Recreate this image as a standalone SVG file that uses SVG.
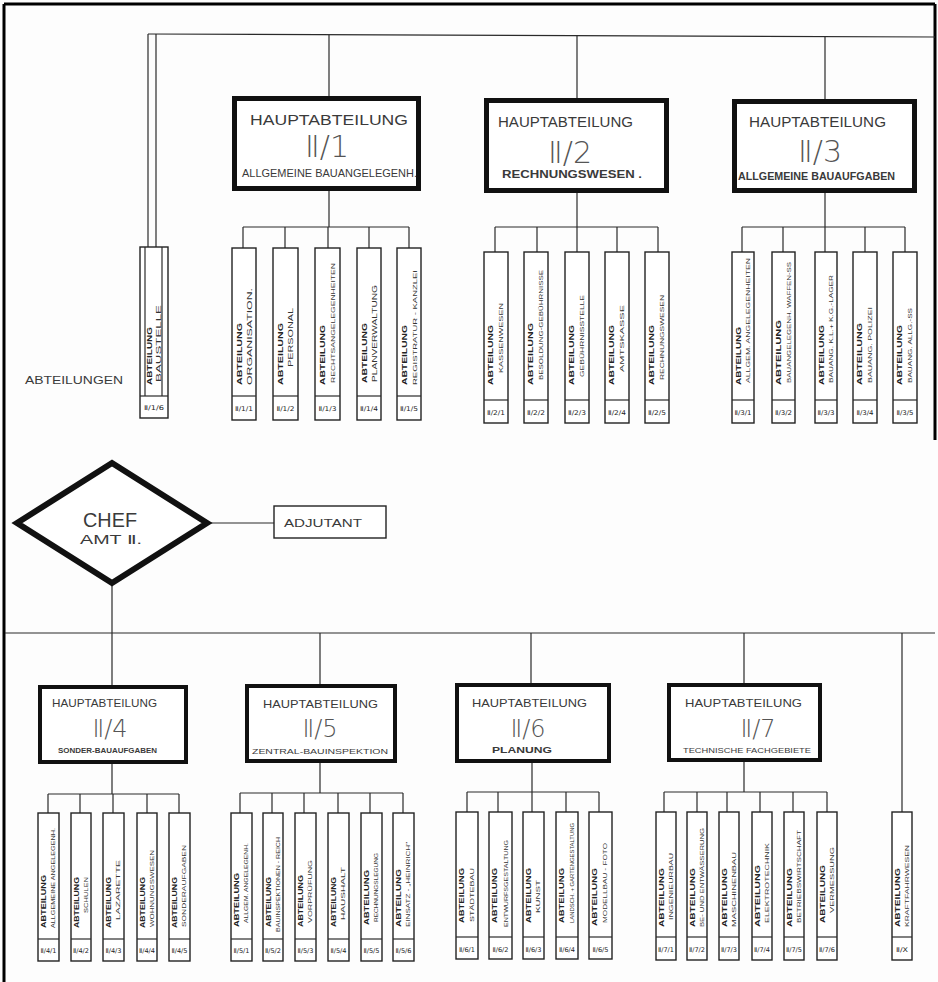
<svg xmlns="http://www.w3.org/2000/svg" width="938" height="982" viewBox="0 0 938 982">
<defs>
<style>
.ln{stroke:#2a2a2a;stroke-width:1.2;fill:none}
.frame{stroke:#000;stroke-width:3;fill:none}
.bx{fill:#fff;stroke:#222;stroke-width:1.4}
.hb{fill:#fff;stroke:#111;stroke-width:5}
.hb2{fill:#fff;stroke:#111;stroke-width:4}
.ab{font-family:"Liberation Sans",Arial,sans-serif;font-weight:bold;fill:#222}
.sb{font-family:"Liberation Sans",Arial,sans-serif;fill:#333}
.cd{font-family:"DejaVu Sans Condensed","DejaVu Sans",sans-serif;font-size:6.5px;fill:#222;text-anchor:middle}
.ht{font-family:"Liberation Sans",Arial,sans-serif;fill:#3a3a3a}
.num{font-family:"DejaVu Sans",sans-serif;font-weight:200;fill:#555;text-anchor:middle}
.t8{font-size:8px}
.t7{font-size:7px}
.t6{font-size:6px}
</style>
</defs>
<rect width="938" height="982" fill="#fdfdfd"/>
<g id="frame">
<line class="frame" x1="4" y1="4" x2="935" y2="4"/>
<line class="frame" x1="4" y1="4" x2="4" y2="982"/>
<line class="frame" x1="935" y1="4" x2="935" y2="440"/>
</g>
<g id="connectors">
<line class="ln" x1="148" y1="34" x2="935" y2="37"/>
<line class="ln" x1="148" y1="34" x2="148" y2="247"/>
<line class="ln" x1="156" y1="34" x2="156" y2="247"/>
<line class="ln" x1="329" y1="35" x2="329" y2="96"/>
<line class="ln" x1="577" y1="36" x2="577" y2="98"/>
<line class="ln" x1="825" y1="36" x2="825" y2="99"/>
<line class="ln" x1="329" y1="191" x2="329" y2="227"/>
<line class="ln" x1="577" y1="193" x2="577" y2="227"/>
<line class="ln" x1="825" y1="193" x2="825" y2="227"/>
<line class="ln" x1="243" y1="227" x2="409" y2="227"/>
<line class="ln" x1="495" y1="227" x2="658" y2="227"/>
<line class="ln" x1="742" y1="227" x2="905" y2="227"/>
<path class="ln" d="M243 227V248M285 227V248M328 227V248M369 227V248M409 227V248"/>
<path class="ln" d="M495 227V252M537 227V252M577 227V252M617 227V252M658 227V252"/>
<path class="ln" d="M742 227V252M783 227V252M825 227V252M865 227V252M905 227V252"/>
<line class="ln" x1="207" y1="523" x2="274" y2="523"/>
<line class="ln" x1="112" y1="583" x2="112" y2="633"/>
<line class="ln" x1="5" y1="633" x2="935" y2="633"/>
<path class="ln" d="M112 633V685M320 633V684M531 633V683M744 633V683M902 633V812"/>
<path class="ln" d="M112 764V794M320 763V793M532 763V792M744 762V792"/>
<line class="ln" x1="48" y1="794" x2="179" y2="794"/>
<line class="ln" x1="240" y1="793" x2="403" y2="793"/>
<line class="ln" x1="467" y1="792" x2="599" y2="792"/>
<line class="ln" x1="664" y1="792" x2="827" y2="792"/>
<path class="ln" d="M48 794V813M80 794V813M113 794V813M147 794V813M179 794V813"/>
<path class="ln" d="M240 793V813M272 793V813M304 793V813M338 793V813M370 793V813M403 793V813"/>
<path class="ln" d="M467 792V812M498 792V812M532 792V812M566 792V812M599 792V812"/>
<path class="ln" d="M664 792V812M697 792V812M727 792V812M760 792V812M793 792V812M827 792V812"/>
</g>

<g id="label-abteilungen">
<text class="ht" x="25" y="384" font-size="10" textLength="98" lengthAdjust="spacingAndGlyphs" fill="#555">ABTEILUNGEN</text>
</g>

<!-- Top Hauptabteilungen -->
<g id="ha-2-1">
<rect class="hb" x="234.5" y="98.5" width="184" height="90"/>
<text class="ht" x="250" y="125" font-size="14" textLength="158" lengthAdjust="spacingAndGlyphs">HAUPTABTEILUNG</text>
<text class="num" x="327" y="157" font-size="30">Ⅱ/1</text>
<text class="ht" x="242" y="177" font-size="11" textLength="175" lengthAdjust="spacingAndGlyphs">ALLGEMEINE BAUANGELEGENH.</text>
</g>
<g id="ha-2-2">
<rect class="hb" x="486.5" y="100.5" width="180" height="90"/>
<text class="ht" x="498" y="127" font-size="14" textLength="135" lengthAdjust="spacingAndGlyphs">HAUPTABTEILUNG</text>
<text class="num" x="570" y="163" font-size="30">Ⅱ/2</text>
<text class="ht" x="502" y="178" font-size="10.5" font-weight="bold" textLength="140" lengthAdjust="spacingAndGlyphs">RECHNUNGSWESEN .</text>
</g>
<g id="ha-2-3">
<rect class="hb" x="734.5" y="101.5" width="180" height="89"/>
<text class="ht" x="749" y="127" font-size="14" textLength="137" lengthAdjust="spacingAndGlyphs">HAUPTABTEILUNG</text>
<text class="num" x="820" y="162" font-size="30">Ⅱ/3</text>
<text class="ht" x="738" y="180" font-size="10.5" font-weight="bold" textLength="157" lengthAdjust="spacingAndGlyphs">ALLGEMEINE BAUAUFGABEN</text>
</g>

<!-- Abteilung Baustelle -->
<g id="a-2-1-6">
<rect class="bx" x="140" y="247" width="28" height="171"/>
<line class="ln" x1="145" y1="247" x2="145" y2="396"/>
<line class="ln" x1="162" y1="247" x2="162" y2="396"/>
<line class="ln" x1="140" y1="396" x2="168" y2="396"/>
<text class="ab" font-size="7" transform="translate(152,385) rotate(-90)" textLength="58" lengthAdjust="spacingAndGlyphs">ABTEILUNG</text>
<text class="sb" font-size="6.5" transform="translate(160.5,382) rotate(-90)" textLength="77" lengthAdjust="spacingAndGlyphs">BAUSTELLE</text>
<text class="cd" x="154" y="410" textLength="20" lengthAdjust="spacingAndGlyphs">Ⅱ/1/6</text>
</g>

<!-- II/1 departments -->
<g id="a-2-1-1">
<rect class="bx" x="232" y="248" width="24" height="172"/>
<line class="ln" x1="232" y1="396" x2="256" y2="396"/>
<text class="ab t8" transform="translate(242,385) rotate(-90)" textLength="62" lengthAdjust="spacingAndGlyphs">ABTEILUNG</text>
<text class="sb t7" transform="translate(252,385) rotate(-90)" textLength="97" lengthAdjust="spacingAndGlyphs">ORGANISATION.</text>
<text class="cd" x="244" y="411" textLength="18" lengthAdjust="spacingAndGlyphs">Ⅱ/1/1</text>
</g>
<g id="a-2-1-2">
<rect class="bx" x="273" y="248" width="25" height="172"/>
<line class="ln" x1="273" y1="396" x2="298" y2="396"/>
<text class="ab t8" transform="translate(283,385) rotate(-90)" textLength="62" lengthAdjust="spacingAndGlyphs">ABTEILUNG</text>
<text class="sb t7" transform="translate(293,367) rotate(-90)" textLength="59" lengthAdjust="spacingAndGlyphs">PERSONAL</text>
<text class="cd" x="285.5" y="411" textLength="18" lengthAdjust="spacingAndGlyphs">Ⅱ/1/2</text>
</g>
<g id="a-2-1-3">
<rect class="bx" x="315" y="248" width="25" height="172"/>
<line class="ln" x1="315" y1="396" x2="340" y2="396"/>
<text class="ab t8" transform="translate(325,385) rotate(-90)" textLength="60" lengthAdjust="spacingAndGlyphs">ABTEILUNG</text>
<text class="sb t6" transform="translate(335,383) rotate(-90)" textLength="120" lengthAdjust="spacingAndGlyphs">RECHTSANGELEGENHEITEN</text>
<text class="cd" x="327.5" y="411" textLength="18" lengthAdjust="spacingAndGlyphs">Ⅱ/1/3</text>
</g>
<g id="a-2-1-4">
<rect class="bx" x="357" y="248" width="24" height="172"/>
<line class="ln" x1="357" y1="396" x2="381" y2="396"/>
<text class="ab t8" transform="translate(367,383) rotate(-90)" textLength="60" lengthAdjust="spacingAndGlyphs">ABTEILUNG</text>
<text class="sb t7" transform="translate(377,382) rotate(-90)" textLength="97" lengthAdjust="spacingAndGlyphs">PLANVERWALTUNG</text>
<text class="cd" x="369" y="411" textLength="18" lengthAdjust="spacingAndGlyphs">Ⅱ/1/4</text>
</g>
<g id="a-2-1-5">
<rect class="bx" x="397" y="248" width="24" height="172"/>
<line class="ln" x1="397" y1="396" x2="421" y2="396"/>
<text class="ab t8" transform="translate(407,385) rotate(-90)" textLength="60" lengthAdjust="spacingAndGlyphs">ABTEILUNG</text>
<text class="sb t6" transform="translate(417,385) rotate(-90)" textLength="115" lengthAdjust="spacingAndGlyphs">REGISTRATUR - KANZLEI</text>
<text class="cd" x="409" y="411" textLength="18" lengthAdjust="spacingAndGlyphs">Ⅱ/1/5</text>
</g>

<!-- II/2 departments -->
<g id="a-2-2-1">
<rect class="bx" x="484" y="252" width="24" height="171"/>
<line class="ln" x1="484" y1="400" x2="508" y2="400"/>
<text class="ab t8" transform="translate(493,385) rotate(-90)" textLength="60" lengthAdjust="spacingAndGlyphs">ABTEILUNG</text>
<text class="sb t6" transform="translate(503,373) rotate(-90)" textLength="70" lengthAdjust="spacingAndGlyphs">KASSENWESEN</text>
<text class="cd" x="496" y="415" textLength="18" lengthAdjust="spacingAndGlyphs">Ⅱ/2/1</text>
</g>
<g id="a-2-2-2">
<rect class="bx" x="524" y="252" width="24" height="171"/>
<line class="ln" x1="524" y1="400" x2="548" y2="400"/>
<text class="ab t8" transform="translate(533,385) rotate(-90)" textLength="62" lengthAdjust="spacingAndGlyphs">ABTEILUNG</text>
<text class="sb t6" transform="translate(543,380) rotate(-90)" textLength="110" lengthAdjust="spacingAndGlyphs">BESOLDUNG-GEBÜHRNISSE</text>
<text class="cd" x="536" y="415" textLength="18" lengthAdjust="spacingAndGlyphs">Ⅱ/2/2</text>
</g>
<g id="a-2-2-3">
<rect class="bx" x="565" y="252" width="24" height="171"/>
<line class="ln" x1="565" y1="400" x2="589" y2="400"/>
<text class="ab t8" transform="translate(574,385) rotate(-90)" textLength="60" lengthAdjust="spacingAndGlyphs">ABTEILUNG</text>
<text class="sb t6" transform="translate(584,377) rotate(-90)" textLength="82" lengthAdjust="spacingAndGlyphs">GEBÜHRNISSTELLE</text>
<text class="cd" x="577" y="415" textLength="18" lengthAdjust="spacingAndGlyphs">Ⅱ/2/3</text>
</g>
<g id="a-2-2-4">
<rect class="bx" x="605" y="252" width="24" height="171"/>
<line class="ln" x1="605" y1="400" x2="629" y2="400"/>
<text class="ab t8" transform="translate(614,385) rotate(-90)" textLength="60" lengthAdjust="spacingAndGlyphs">ABTEILUNG</text>
<text class="sb t6" transform="translate(624,372) rotate(-90)" textLength="67" lengthAdjust="spacingAndGlyphs">AMTSKASSE</text>
<text class="cd" x="617" y="415" textLength="18" lengthAdjust="spacingAndGlyphs">Ⅱ/2/4</text>
</g>
<g id="a-2-2-5">
<rect class="bx" x="645" y="252" width="24" height="171"/>
<line class="ln" x1="645" y1="400" x2="669" y2="400"/>
<text class="ab t8" transform="translate(654,385) rotate(-90)" textLength="60" lengthAdjust="spacingAndGlyphs">ABTEILUNG</text>
<text class="sb t6" transform="translate(664,380) rotate(-90)" textLength="85" lengthAdjust="spacingAndGlyphs">RECHNUNGSWESEN</text>
<text class="cd" x="657" y="415" textLength="18" lengthAdjust="spacingAndGlyphs">Ⅱ/2/5</text>
</g>

<!-- II/3 departments -->
<g id="a-2-3-1">
<rect class="bx" x="732" y="252" width="22" height="171"/>
<line class="ln" x1="732" y1="400" x2="754" y2="400"/>
<text class="ab t8" transform="translate(741,385) rotate(-90)" textLength="58" lengthAdjust="spacingAndGlyphs">ABTEILUNG</text>
<text class="sb t6" transform="translate(750,383) rotate(-90)" textLength="125" lengthAdjust="spacingAndGlyphs">ALLGEM. ANGELEGENHEITEN</text>
<text class="cd" x="743" y="415" textLength="17" lengthAdjust="spacingAndGlyphs">Ⅱ/3/1</text>
</g>
<g id="a-2-3-2">
<rect class="bx" x="772" y="252" width="23" height="171"/>
<line class="ln" x1="772" y1="400" x2="795" y2="400"/>
<text class="ab t8" transform="translate(781,385) rotate(-90)" textLength="65" lengthAdjust="spacingAndGlyphs">ABTEILUNG</text>
<text class="sb t6" transform="translate(790.5,383) rotate(-90)" textLength="121" lengthAdjust="spacingAndGlyphs">BAUANGELEGENH. WAFFEN-SS</text>
<text class="cd" x="783.5" y="415" textLength="17" lengthAdjust="spacingAndGlyphs">Ⅱ/3/2</text>
</g>
<g id="a-2-3-3">
<rect class="bx" x="815" y="252" width="22" height="171"/>
<line class="ln" x1="815" y1="400" x2="837" y2="400"/>
<text class="ab t8" transform="translate(824,385) rotate(-90)" textLength="60" lengthAdjust="spacingAndGlyphs">ABTEILUNG</text>
<text class="sb t6" transform="translate(833,383) rotate(-90)" textLength="108" lengthAdjust="spacingAndGlyphs">BAUANG. K.L.+ K.G.-LAGER</text>
<text class="cd" x="826" y="415" textLength="17" lengthAdjust="spacingAndGlyphs">Ⅱ/3/3</text>
</g>
<g id="a-2-3-4">
<rect class="bx" x="853" y="252" width="24" height="171"/>
<line class="ln" x1="853" y1="400" x2="877" y2="400"/>
<text class="ab t8" transform="translate(862,385) rotate(-90)" textLength="62" lengthAdjust="spacingAndGlyphs">ABTEILUNG</text>
<text class="sb t6" transform="translate(872,383) rotate(-90)" textLength="76" lengthAdjust="spacingAndGlyphs">BAUANG. POLIZEI</text>
<text class="cd" x="865" y="415" textLength="17" lengthAdjust="spacingAndGlyphs">Ⅱ/3/4</text>
</g>
<g id="a-2-3-5">
<rect class="bx" x="893" y="252" width="24" height="171"/>
<line class="ln" x1="893" y1="400" x2="917" y2="400"/>
<text class="ab t8" transform="translate(902,385) rotate(-90)" textLength="60" lengthAdjust="spacingAndGlyphs">ABTEILUNG</text>
<text class="sb t6" transform="translate(912,383) rotate(-90)" textLength="75" lengthAdjust="spacingAndGlyphs">BAUANG. ALLG.-SS</text>
<text class="cd" x="905" y="415" textLength="17" lengthAdjust="spacingAndGlyphs">Ⅱ/3/5</text>
</g>

<!-- Chef and Adjutant -->
<g id="chef">
<polygon points="17,523 112,463 207,523 112,583" fill="#fff" stroke="#111" stroke-width="6" stroke-linejoin="miter"/>
<text class="ht" x="83" y="527" font-size="20" textLength="54" lengthAdjust="spacingAndGlyphs">CHEF</text>
<text class="ht" x="80" y="544" font-size="12" textLength="62" lengthAdjust="spacingAndGlyphs">AMT Ⅱ.</text>
</g>
<g id="adjutant">
<rect class="bx" x="274" y="506" width="112" height="32" stroke-width="1.2"/>
<text class="ht" x="284" y="527" font-size="11" textLength="78" lengthAdjust="spacingAndGlyphs">ADJUTANT</text>
</g>

<!-- Bottom Hauptabteilungen -->
<g id="ha-2-4">
<rect class="hb2" x="40" y="687" width="146" height="75"/>
<text class="ht" x="52" y="707" font-size="11" textLength="105" lengthAdjust="spacingAndGlyphs">HAUPTABTEILUNG</text>
<text class="num" x="110" y="737" font-size="24">Ⅱ/4</text>
<text class="ht" x="58" y="753" font-size="8" font-weight="bold" textLength="99" lengthAdjust="spacingAndGlyphs">SONDER-BAUAUFGABEN</text>
</g>
<g id="ha-2-5">
<rect class="hb2" x="247" y="686" width="148" height="75"/>
<text class="ht" x="263" y="708" font-size="11" textLength="115" lengthAdjust="spacingAndGlyphs">HAUPTABTEILUNG</text>
<text class="num" x="320" y="737" font-size="24">Ⅱ/5</text>
<text class="ht" x="252" y="754" font-size="8" textLength="136" lengthAdjust="spacingAndGlyphs">ZENTRAL-BAUINSPEKTION</text>
</g>
<g id="ha-2-6">
<rect class="hb2" x="457" y="685" width="152" height="76"/>
<text class="ht" x="472" y="707" font-size="11" textLength="115" lengthAdjust="spacingAndGlyphs">HAUPTABTEILUNG</text>
<text class="num" x="528" y="737" font-size="24">Ⅱ/6</text>
<text class="ht" x="492" y="753" font-size="8.5" font-weight="bold" textLength="60" lengthAdjust="spacingAndGlyphs">PLANUNG</text>
</g>
<g id="ha-2-7">
<rect class="hb2" x="669" y="685" width="151" height="75"/>
<text class="ht" x="685" y="707" font-size="11" textLength="117" lengthAdjust="spacingAndGlyphs">HAUPTABTEILUNG</text>
<text class="num" x="758" y="737" font-size="24">Ⅱ/7</text>
<text class="ht" x="683" y="753" font-size="8" textLength="128" lengthAdjust="spacingAndGlyphs">TECHNISCHE FACHGEBIETE</text>
</g>

<!-- II/4 departments -->
<g id="a-2-4-1">
<rect class="bx" x="38" y="813" width="21" height="148"/>
<line class="ln" x1="38" y1="939" x2="59" y2="939"/>
<text class="ab t7" transform="translate(46,928) rotate(-90)" textLength="53" lengthAdjust="spacingAndGlyphs">ABTEILUNG</text>
<text class="sb t6" transform="translate(55,928) rotate(-90)" textLength="100" lengthAdjust="spacingAndGlyphs">ALLGEMEINE ANGELEGENH.</text>
<text class="cd" x="48.5" y="953" textLength="16" lengthAdjust="spacingAndGlyphs">Ⅱ/4/1</text>
</g>
<g id="a-2-4-2">
<rect class="bx" x="71" y="813" width="20" height="148"/>
<line class="ln" x1="71" y1="939" x2="91" y2="939"/>
<text class="ab t7" transform="translate(79,928) rotate(-90)" textLength="51" lengthAdjust="spacingAndGlyphs">ABTEILUNG</text>
<text class="sb t6" transform="translate(88,913) rotate(-90)" textLength="36" lengthAdjust="spacingAndGlyphs">SCHULEN</text>
<text class="cd" x="81" y="953" textLength="16" lengthAdjust="spacingAndGlyphs">Ⅱ/4/2</text>
</g>
<g id="a-2-4-3">
<rect class="bx" x="103" y="813" width="21" height="148"/>
<line class="ln" x1="103" y1="939" x2="124" y2="939"/>
<text class="ab t7" transform="translate(111,928) rotate(-90)" textLength="51" lengthAdjust="spacingAndGlyphs">ABTEILUNG</text>
<text class="sb t6" transform="translate(120,920) rotate(-90)" textLength="60" lengthAdjust="spacingAndGlyphs">LAZARETTE</text>
<text class="cd" x="113.5" y="953" textLength="16" lengthAdjust="spacingAndGlyphs">Ⅱ/4/3</text>
</g>
<g id="a-2-4-4">
<rect class="bx" x="137" y="813" width="20" height="148"/>
<line class="ln" x1="137" y1="939" x2="157" y2="939"/>
<text class="ab t7" transform="translate(145,928) rotate(-90)" textLength="51" lengthAdjust="spacingAndGlyphs">ABTEILUNG</text>
<text class="sb t6" transform="translate(154,927) rotate(-90)" textLength="77" lengthAdjust="spacingAndGlyphs">WOHNUNGSWESEN</text>
<text class="cd" x="147" y="953" textLength="16" lengthAdjust="spacingAndGlyphs">Ⅱ/4/4</text>
</g>
<g id="a-2-4-5">
<rect class="bx" x="169" y="813" width="21" height="148"/>
<line class="ln" x1="169" y1="939" x2="190" y2="939"/>
<text class="ab t7" transform="translate(177,928) rotate(-90)" textLength="51" lengthAdjust="spacingAndGlyphs">ABTEILUNG</text>
<text class="sb t6" transform="translate(186,927) rotate(-90)" textLength="82" lengthAdjust="spacingAndGlyphs">SONDERAUFGABEN</text>
<text class="cd" x="179.5" y="953" textLength="16" lengthAdjust="spacingAndGlyphs">Ⅱ/4/5</text>
</g>

<!-- II/5 departments -->
<g id="a-2-5-1">
<rect class="bx" x="231" y="813" width="21" height="148"/>
<line class="ln" x1="231" y1="939" x2="252" y2="939"/>
<text class="ab t7" transform="translate(239,927) rotate(-90)" textLength="54" lengthAdjust="spacingAndGlyphs">ABTEILUNG</text>
<text class="sb t6" transform="translate(248,923) rotate(-90)" textLength="80" lengthAdjust="spacingAndGlyphs">ALLGEM. ANGELEGENH.</text>
<text class="cd" x="241.5" y="953" textLength="16" lengthAdjust="spacingAndGlyphs">Ⅱ/5/1</text>
</g>
<g id="a-2-5-2">
<rect class="bx" x="263" y="813" width="20" height="148"/>
<line class="ln" x1="263" y1="939" x2="283" y2="939"/>
<text class="ab t7" transform="translate(271,927) rotate(-90)" textLength="50" lengthAdjust="spacingAndGlyphs">ABTEILUNG</text>
<text class="sb t6" transform="translate(280,932) rotate(-90)" textLength="95" lengthAdjust="spacingAndGlyphs">BAUINSPEKTIONEN - REICH</text>
<text class="cd" x="273" y="953" textLength="16" lengthAdjust="spacingAndGlyphs">Ⅱ/5/2</text>
</g>
<g id="a-2-5-3">
<rect class="bx" x="295" y="813" width="21" height="148"/>
<line class="ln" x1="295" y1="939" x2="316" y2="939"/>
<text class="ab t7" transform="translate(303,927) rotate(-90)" textLength="52" lengthAdjust="spacingAndGlyphs">ABTEILUNG</text>
<text class="sb t6" transform="translate(312,923) rotate(-90)" textLength="63" lengthAdjust="spacingAndGlyphs">VORPRÜFUNG</text>
<text class="cd" x="305.5" y="953" textLength="16" lengthAdjust="spacingAndGlyphs">Ⅱ/5/3</text>
</g>
<g id="a-2-5-4">
<rect class="bx" x="328" y="813" width="21" height="148"/>
<line class="ln" x1="328" y1="939" x2="349" y2="939"/>
<text class="ab t7" transform="translate(336,927) rotate(-90)" textLength="50" lengthAdjust="spacingAndGlyphs">ABTEILUNG</text>
<text class="sb t6" transform="translate(345,920) rotate(-90)" textLength="53" lengthAdjust="spacingAndGlyphs">HAUSHALT</text>
<text class="cd" x="338.5" y="953" textLength="16" lengthAdjust="spacingAndGlyphs">Ⅱ/5/4</text>
</g>
<g id="a-2-5-5">
<rect class="bx" x="361" y="813" width="21" height="148"/>
<line class="ln" x1="361" y1="939" x2="382" y2="939"/>
<text class="ab t7" transform="translate(369,925) rotate(-90)" textLength="55" lengthAdjust="spacingAndGlyphs">ABTEILUNG</text>
<text class="sb t6" transform="translate(378,922) rotate(-90)" textLength="69" lengthAdjust="spacingAndGlyphs">RECHNUNGSLEGUNG</text>
<text class="cd" x="371.5" y="953" textLength="16" lengthAdjust="spacingAndGlyphs">Ⅱ/5/5</text>
</g>
<g id="a-2-5-6">
<rect class="bx" x="393" y="813" width="21" height="148"/>
<line class="ln" x1="393" y1="939" x2="414" y2="939"/>
<text class="ab t7" transform="translate(401,927) rotate(-90)" textLength="58" lengthAdjust="spacingAndGlyphs">ABTEILUNG</text>
<text class="sb t6" transform="translate(410,927) rotate(-90)" textLength="85" lengthAdjust="spacingAndGlyphs">EINSATZ - „HEINRICH"</text>
<text class="cd" x="403.5" y="953" textLength="16" lengthAdjust="spacingAndGlyphs">Ⅱ/5/6</text>
</g>

<!-- II/6 departments -->
<g id="a-2-6-1">
<rect class="bx" x="456" y="812" width="22" height="147"/>
<line class="ln" x1="456" y1="937" x2="478" y2="937"/>
<text class="ab t7" transform="translate(464,923) rotate(-90)" textLength="55" lengthAdjust="spacingAndGlyphs">ABTEILUNG</text>
<text class="sb t6" transform="translate(474,922) rotate(-90)" textLength="54" lengthAdjust="spacingAndGlyphs">STÄDTEBAU</text>
<text class="cd" x="467" y="952" textLength="16" lengthAdjust="spacingAndGlyphs">Ⅱ/6/1</text>
</g>
<g id="a-2-6-2">
<rect class="bx" x="489" y="812" width="23" height="147"/>
<line class="ln" x1="489" y1="937" x2="512" y2="937"/>
<text class="ab t7" transform="translate(497,923) rotate(-90)" textLength="55" lengthAdjust="spacingAndGlyphs">ABTEILUNG</text>
<text class="sb t6" transform="translate(508,927) rotate(-90)" textLength="87" lengthAdjust="spacingAndGlyphs">ENTWURFSGESTALTUNG</text>
<text class="cd" x="500.5" y="952" textLength="16" lengthAdjust="spacingAndGlyphs">Ⅱ/6/2</text>
</g>
<g id="a-2-6-3">
<rect class="bx" x="523" y="812" width="21" height="147"/>
<line class="ln" x1="523" y1="937" x2="544" y2="937"/>
<text class="ab t7" transform="translate(531,923) rotate(-90)" textLength="55" lengthAdjust="spacingAndGlyphs">ABTEILUNG</text>
<text class="sb t6" transform="translate(540,913) rotate(-90)" textLength="33" lengthAdjust="spacingAndGlyphs">KUNST</text>
<text class="cd" x="533.5" y="952" textLength="16" lengthAdjust="spacingAndGlyphs">Ⅱ/6/3</text>
</g>
<g id="a-2-6-4">
<rect class="bx" x="556" y="812" width="22" height="147"/>
<line class="ln" x1="556" y1="937" x2="578" y2="937"/>
<text class="ab t7" transform="translate(564,923) rotate(-90)" textLength="55" lengthAdjust="spacingAndGlyphs">ABTEILUNG</text>
<text class="sb t6" transform="translate(574,923) rotate(-90)" textLength="100" lengthAdjust="spacingAndGlyphs">LANDSCH. + GARTENGESTALTUNG</text>
<text class="cd" x="567" y="952" textLength="16" lengthAdjust="spacingAndGlyphs">Ⅱ/6/4</text>
</g>
<g id="a-2-6-5">
<rect class="bx" x="589" y="812" width="23" height="147"/>
<line class="ln" x1="589" y1="937" x2="612" y2="937"/>
<text class="ab t7" transform="translate(597,926) rotate(-90)" textLength="58" lengthAdjust="spacingAndGlyphs">ABTEILUNG</text>
<text class="sb t6" transform="translate(607,923) rotate(-90)" textLength="80" lengthAdjust="spacingAndGlyphs">MODELLBAU - FOTO</text>
<text class="cd" x="600.5" y="952" textLength="16" lengthAdjust="spacingAndGlyphs">Ⅱ/6/5</text>
</g>

<!-- II/7 departments -->
<g id="a-2-7-1">
<rect class="bx" x="656" y="812" width="20" height="148"/>
<line class="ln" x1="656" y1="937" x2="676" y2="937"/>
<text class="ab t7" transform="translate(664,927) rotate(-90)" textLength="59" lengthAdjust="spacingAndGlyphs">ABTEILUNG</text>
<text class="sb t6" transform="translate(672.5,920) rotate(-90)" textLength="67" lengthAdjust="spacingAndGlyphs">INGENIEURBAU</text>
<text class="cd" x="666" y="952" textLength="16" lengthAdjust="spacingAndGlyphs">Ⅱ/7/1</text>
</g>
<g id="a-2-7-2">
<rect class="bx" x="687" y="812" width="20" height="148"/>
<line class="ln" x1="687" y1="937" x2="707" y2="937"/>
<text class="ab t7" transform="translate(695,927) rotate(-90)" textLength="59" lengthAdjust="spacingAndGlyphs">ABTEILUNG</text>
<text class="sb t6" transform="translate(703.5,927) rotate(-90)" textLength="99" lengthAdjust="spacingAndGlyphs">BE- UND ENTWÄSSERUNG</text>
<text class="cd" x="697" y="952" textLength="16" lengthAdjust="spacingAndGlyphs">Ⅱ/7/2</text>
</g>
<g id="a-2-7-3">
<rect class="bx" x="719" y="812" width="20" height="148"/>
<line class="ln" x1="719" y1="937" x2="739" y2="937"/>
<text class="ab t7" transform="translate(727,927) rotate(-90)" textLength="59" lengthAdjust="spacingAndGlyphs">ABTEILUNG</text>
<text class="sb t6" transform="translate(735.5,927) rotate(-90)" textLength="75" lengthAdjust="spacingAndGlyphs">MASCHINENBAU</text>
<text class="cd" x="729" y="952" textLength="16" lengthAdjust="spacingAndGlyphs">Ⅱ/7/3</text>
</g>
<g id="a-2-7-4">
<rect class="bx" x="752" y="812" width="20" height="148"/>
<line class="ln" x1="752" y1="937" x2="772" y2="937"/>
<text class="ab t7" transform="translate(760,927) rotate(-90)" textLength="62" lengthAdjust="spacingAndGlyphs">ABTEILUNG</text>
<text class="sb t6" transform="translate(768.5,923) rotate(-90)" textLength="80" lengthAdjust="spacingAndGlyphs">ELEKTROTECHNIK</text>
<text class="cd" x="762" y="952" textLength="16" lengthAdjust="spacingAndGlyphs">Ⅱ/7/4</text>
</g>
<g id="a-2-7-5">
<rect class="bx" x="784" y="812" width="20" height="148"/>
<line class="ln" x1="784" y1="937" x2="804" y2="937"/>
<text class="ab t7" transform="translate(792,927) rotate(-90)" textLength="59" lengthAdjust="spacingAndGlyphs">ABTEILUNG</text>
<text class="sb t6" transform="translate(800.5,923) rotate(-90)" textLength="93" lengthAdjust="spacingAndGlyphs">BETRIEBSWIRTSCHAFT</text>
<text class="cd" x="794" y="952" textLength="16" lengthAdjust="spacingAndGlyphs">Ⅱ/7/5</text>
</g>
<g id="a-2-7-6">
<rect class="bx" x="817" y="812" width="20" height="148"/>
<line class="ln" x1="817" y1="937" x2="837" y2="937"/>
<text class="ab t7" transform="translate(825,923) rotate(-90)" textLength="58" lengthAdjust="spacingAndGlyphs">ABTEILUNG</text>
<text class="sb t6" transform="translate(833.5,913) rotate(-90)" textLength="66" lengthAdjust="spacingAndGlyphs">VERMESSUNG</text>
<text class="cd" x="827" y="952" textLength="16" lengthAdjust="spacingAndGlyphs">Ⅱ/7/6</text>
</g>

<!-- II/X -->
<g id="a-2-x">
<rect class="bx" x="892" y="812" width="20" height="148"/>
<line class="ln" x1="892" y1="937" x2="912" y2="937"/>
<text class="ab t7" transform="translate(900,927) rotate(-90)" textLength="59" lengthAdjust="spacingAndGlyphs">ABTEILUNG</text>
<text class="sb t6" transform="translate(908.5,927) rotate(-90)" textLength="82" lengthAdjust="spacingAndGlyphs">KRAFTFAHRWESEN</text>
<text class="cd" x="902" y="952" textLength="12" lengthAdjust="spacingAndGlyphs">Ⅱ/X</text>
</g>
</svg>
